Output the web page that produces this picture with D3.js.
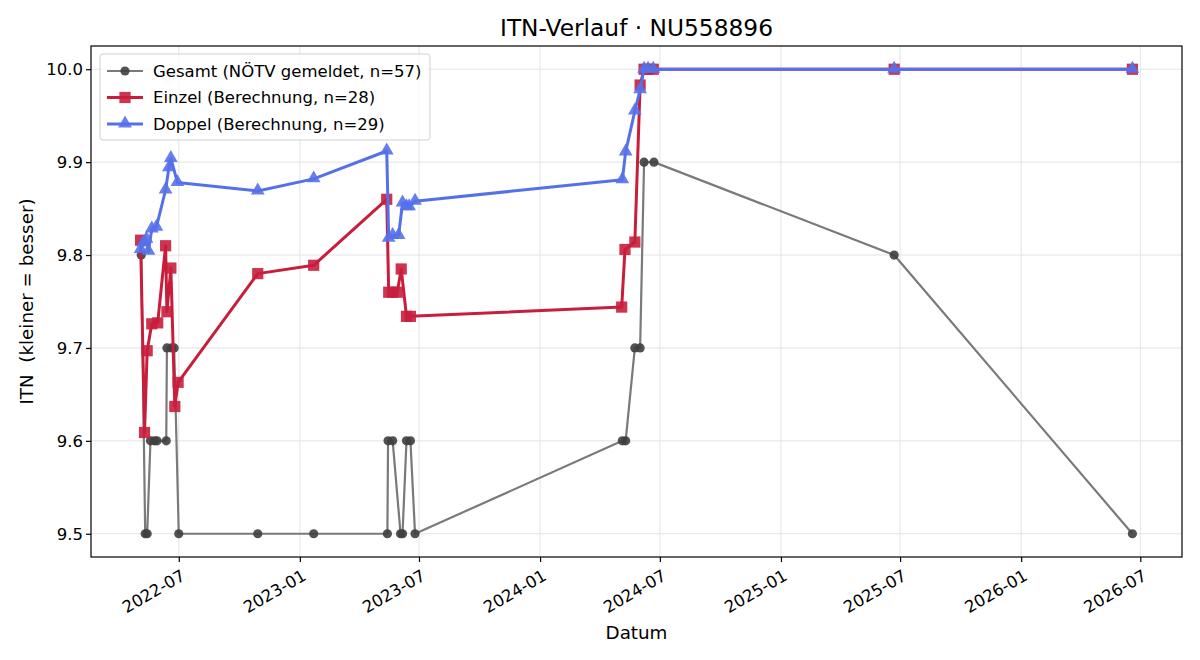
<!DOCTYPE html>
<html>
<head>
<meta charset="utf-8">
<script src="https://cdn.jsdelivr.net/npm/d3@7"></script>
<style>
  body { margin: 0; background: #fff; }
  text { font-family: "DejaVu Sans", sans-serif; }
</style>
</head>
<body>
<div id="chart"></div>
<script>
// values
var gesamtDates = ['2022-05-05','2022-05-11','2022-05-14','2022-05-19','2022-05-25','2022-05-29','2022-06-12','2022-06-13','2022-06-20','2022-06-24','2022-07-01',
  '2022-10-29','2023-01-22','2023-05-14','2023-05-15','2023-05-22','2023-06-03','2023-06-06','2023-06-12','2023-06-18','2023-06-25',
  '2024-05-05','2024-05-10','2024-05-24','2024-06-01','2024-06-07','2024-06-22','2025-06-22','2026-06-19'];
var gesamtValues = [9.8, 9.5, 9.5, 9.6, 9.6, 9.6, 9.6, 9.7, 9.7, 9.7, 9.5,
  9.5, 9.5, 9.5, 9.6, 9.6, 9.5, 9.5, 9.6, 9.6, 9.5,
  9.6, 9.6, 9.7, 9.7, 9.9, 9.9, 9.8, 9.5];

var einzelDates = ['2022-05-04','2022-05-10','2022-05-14','2022-05-21','2022-05-30','2022-06-11','2022-06-13','2022-06-19','2022-06-25','2022-06-30',
  '2022-10-29','2023-01-22','2023-05-13','2023-05-16','2023-05-22','2023-05-29','2023-06-04','2023-06-12','2023-06-18',
  '2024-05-04','2024-05-09','2024-05-24','2024-06-01','2024-06-07','2024-06-13','2024-06-21','2025-06-22','2026-06-19'];
var einzelValues = [9.816, 9.609, 9.697, 9.726, 9.727, 9.810, 9.739, 9.786, 9.637, 9.663,
  9.780, 9.789, 9.860, 9.760, 9.760, 9.760, 9.785, 9.734, 9.734,
  9.744, 9.806, 9.814, 9.983, 10.0, 10.0, 10.0, 10.0, 10.0];

var doppelDates = ['2022-05-04','2022-05-08','2022-05-13','2022-05-16','2022-05-21','2022-05-28','2022-06-11','2022-06-16','2022-06-19','2022-06-29',
  '2022-10-29','2023-01-22','2023-05-13','2023-05-16','2023-05-22','2023-05-31','2023-06-06','2023-06-12','2023-06-16','2023-06-25',
  '2024-05-05','2024-05-10','2024-05-24','2024-06-01','2024-06-07','2024-06-13','2024-06-21','2025-06-22','2026-06-19'];
var doppelValues = [9.806, 9.813, 9.817, 9.804, 9.828, 9.830, 9.870, 9.894, 9.904, 9.878,
  9.869, 9.882, 9.912, 9.818, 9.821, 9.821, 9.856, 9.852, 9.852, 9.858,
  9.881, 9.911, 9.955, 9.978, 10.0, 10.0, 10.0, 10.0, 10.0];

var yTicks = [9.5, 9.6, 9.7, 9.8, 9.9, 10.0];
var legendLabels = ['Gesamt (NÖTV gemeldet, n=57)', 'Einzel (Berechnung, n=28)', 'Doppel (Berechnung, n=29)'];

var width = 1200, height = 660;
var margin = {top: 46, right: 18, bottom: 103, left: 91};
var innerW = width - margin.left - margin.right,
    innerH = height - margin.top - margin.bottom;

var parse = d3.timeParse('%Y-%m-%d');
function zipSeries(dates, values) {
  return dates.map(function(d, i) { return {date: parse(d), value: values[i]}; });
}
var series = [
  {name: legendLabels[0], data: zipSeries(gesamtDates, gesamtValues), line: '#7a7a7a', mark: '#3f3f3f', width: 2.2, shape: 'circle'},
  {name: legendLabels[1], data: zipSeries(einzelDates, einzelValues), line: '#c81e3c', mark: '#c81e3c', width: 3, shape: 'square'},
  {name: legendLabels[2], data: zipSeries(doppelDates, doppelValues), line: '#5571ea', mark: '#5571ea', width: 3, shape: 'triangle'}
];

var allDates = [].concat.apply([], series.map(function(s) { return s.data.map(function(d) { return d.date; }); }));
var ext = d3.extent(allDates);
var pad = (ext[1] - ext[0]) * 0.05;

var x = d3.scaleTime()
  .domain([new Date(+ext[0] - pad), new Date(+ext[1] + pad)])
  .range([0, innerW]);
var y = d3.scaleLinear()
  .domain([9.475, 10.025])
  .range([innerH, 0]);

var svg = d3.select('#chart').append('svg')
  .attr('width', width)
  .attr('height', height);

svg.append('text')
  .attr('x', margin.left + innerW / 2)
  .attr('y', 36)
  .attr('text-anchor', 'middle')
  .attr('font-size', '23.3px')
  .text('ITN-Verlauf · NU558896');

var g = svg.append('g')
  .attr('transform', 'translate(' + margin.left + ',' + margin.top + ')');

var xTicks = x.ticks(d3.timeMonth.every(6));

// grid
g.append('g').selectAll('line')
  .data(xTicks)
  .enter().append('line')
  .attr('x1', function(d) { return x(d); })
  .attr('x2', function(d) { return x(d); })
  .attr('y1', 0).attr('y2', innerH)
  .style('stroke', '#e3e3e3').style('stroke-width', '1px');
g.append('g').selectAll('line')
  .data(yTicks)
  .enter().append('line')
  .attr('y1', function(d) { return y(d); })
  .attr('y2', function(d) { return y(d); })
  .attr('x1', 0).attr('x2', innerW)
  .style('stroke', '#e3e3e3').style('stroke-width', '1px');

// axes
var xAxis = g.append('g')
  .attr('transform', 'translate(0,' + innerH + ')')
  .call(d3.axisBottom(x).tickValues(xTicks).tickFormat(d3.timeFormat('%Y-%m')).tickSizeOuter(0).tickSize(5));
xAxis.selectAll('text')
  .attr('font-size', '16.5px')
  .attr('text-anchor', 'end')
  .attr('dy', null)
  .attr('transform', 'translate(3,15) rotate(-30)');
var yAxis = g.append('g')
  .call(d3.axisLeft(y).tickValues(yTicks).tickFormat(d3.format('.1f')).tickSizeOuter(0).tickSize(5));
yAxis.selectAll('text').attr('font-size', '16.5px').attr('x', -8);
[xAxis, yAxis].forEach(function(a) {
  a.select('.domain').remove();
  a.selectAll('line').style('stroke', '#000').style('stroke-width', '1.2px');
  a.selectAll('text').style('fill', '#000').style('font-family', '"DejaVu Sans", sans-serif');
});

g.append('rect')
  .attr('width', innerW).attr('height', innerH)
  .style('fill', 'none').style('stroke', '#000').style('stroke-width', '1.2px');

svg.append('text')
  .attr('x', margin.left + innerW / 2)
  .attr('y', 639)
  .attr('text-anchor', 'middle')
  .attr('font-size', '18.3px')
  .text('Datum');
svg.append('text')
  .attr('transform', 'translate(33,' + (margin.top + innerH / 2) + ') rotate(-90)')
  .attr('text-anchor', 'middle')
  .attr('font-size', '18.3px')
  .style('white-space', 'pre')
  .text('ITN  (kleiner = besser)');

var line = d3.line()
  .x(function(d) { return x(d.date); })
  .y(function(d) { return y(d.value); });

function drawMarker(sel, shape, color, alpha) {
  if (shape === 'circle') {
    sel.append('circle').attr('r', 4.6).style('fill', color).style('fill-opacity', alpha);
  } else if (shape === 'square') {
    sel.append('rect').attr('x', -5.6).attr('y', -5.6).attr('width', 11.2).attr('height', 11.2)
      .style('fill', color).style('fill-opacity', alpha);
  } else {
    sel.append('path').attr('d', d3.symbol().type(d3.symbolTriangle).size(82)())
      .attr('transform', 'translate(0,-0.5)')
      .style('fill', color).style('fill-opacity', alpha);
  }
}

var plot = g.append('g');
series.forEach(function(s) {
  var sg = plot.append('g');
  sg.append('path')
    .datum(s.data)
    .attr('d', line)
    .style('fill', 'none')
    .style('stroke', s.line)
    .style('stroke-width', s.width + 'px')
    .style('stroke-linejoin', 'round');
  sg.selectAll('.m')
    .data(s.data)
    .enter().append('g')
    .attr('class', 'm')
    .attr('transform', function(d) { return 'translate(' + x(d.date) + ',' + y(d.value) + ')'; })
    .each(function() { drawMarker(d3.select(this), s.shape, s.mark, 0.9); });
});

// legend
var lg = svg.append('g').attr('transform', 'translate(100,54)');
lg.append('rect')
  .attr('width', 330).attr('height', 86).attr('rx', 3)
  .style('fill', '#fff').style('fill-opacity', 0.8)
  .style('stroke', '#d0d0d0').style('stroke-width', '1px');
series.forEach(function(s, i) {
  var row = lg.append('g').attr('transform', 'translate(0,' + (17 + i * 26.5) + ')');
  row.append('line')
    .attr('x1', 7).attr('x2', 43)
    .style('stroke', s.line).style('stroke-width', s.width + 'px');
  drawMarker(row.append('g').attr('transform', 'translate(25,0)'), s.shape, s.mark, 0.9);
  row.append('text')
    .attr('x', 53).attr('y', 0).attr('dy', '0.35em')
    .attr('font-size', '16.5px')
    .text(s.name);
});
</script>
</body>
</html>
